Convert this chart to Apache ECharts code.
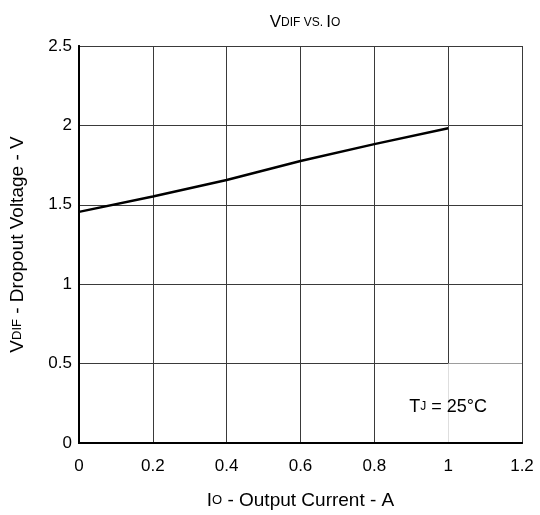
<!DOCTYPE html>
<html>
<head>
<meta charset="utf-8">
<script src="https://cdn.jsdelivr.net/npm/echarts@6/dist/echarts.min.js"></script>
<style>
  html, body { margin: 0; padding: 0; background: #fff; }
  #chart { width: 540px; height: 515px; }
</style>
</head>
<body>
<div id="chart"></div>
<script>
// Dropout voltage versus output current at TJ = 25 °C
const outputCurrent = [0, 0.2, 0.4, 0.6, 0.8, 1.0];          // A
const dropoutVoltage = [1.455, 1.552, 1.656, 1.776, 1.882, 1.982]; // V
const xTicks = { min: 0, max: 1.2, step: 0.2 };
const yTicks = { min: 0, max: 2.5, step: 0.5 };
// Cell reserved for the junction-temperature note
const noteCell = { x0: 1.0, x1: 1.2, y0: 0, y1: 0.5 };
const noteAnchor = [1.0, 0.228];

const FONT = '"Liberation Sans", Arial, Helvetica, sans-serif';
const INK = '#000';
const GRID = '#3a3a3a';

const chart = echarts.init(document.getElementById('chart'), null, { renderer: 'canvas' });

const txt = (size) => ({ fontFamily: FONT, fontSize: size, fontWeight: 'normal', color: INK });

chart.setOption({
  animation: false,
  backgroundColor: '#fff',
  title: {
    text: '{a|V}{b|DIF VS. }{a|I}{b|O}',
    left: 300, textAlign: 'center',
    top: 9,
    textStyle: { fontWeight: 'normal', rich: { a: txt(17), b: txt(12) } }
  },
  grid: { left: 79, right: 18, top: 46, bottom: 72, containLabel: false },
  xAxis: [
    {
      // bottom axis: frame edge, tick labels and title (kept above the note cell)
      type: 'value', position: 'bottom', z: 10,
      min: xTicks.min, max: xTicks.max, interval: xTicks.step,
      axisLine: { show: true, lineStyle: { color: INK, width: 2 } },
      axisTick: { show: false },
      splitLine: { show: false },
      axisLabel: { color: INK, fontFamily: FONT, fontSize: 17, margin: 15,
        formatter: (v) => String(+v.toFixed(1)) },
      name: '{a|I}{b|O}{a| - Output Current - A}',
      nameLocation: 'middle', nameGap: 48,
      nameTextStyle: { rich: { a: txt(19), b: txt(13) } }
    },
    {
      // top axis: frame edge and vertical grid lines
      type: 'value', position: 'top', z: 0,
      min: xTicks.min, max: xTicks.max, interval: xTicks.step,
      axisLine: { show: true, lineStyle: { color: INK, width: 2 } },
      axisTick: { show: false },
      axisLabel: { show: false },
      splitLine: { show: true, lineStyle: { color: GRID, width: 1 } }
    }
  ],
  yAxis: [
    {
      // left axis: frame edge, tick labels, title and horizontal grid lines
      type: 'value', position: 'left', z: 0,
      min: yTicks.min, max: yTicks.max, interval: yTicks.step,
      axisLine: { show: true, lineStyle: { color: INK, width: 2 } },
      axisTick: { show: false },
      splitLine: { show: true, lineStyle: { color: GRID, width: 1 } },
      axisLabel: { color: INK, fontFamily: FONT, fontSize: 17, margin: 7,
        formatter: (v) => String(+v.toFixed(1)) },
      name: '{a|V}{b|DIF}{a| - Dropout Voltage - V}',
      nameLocation: 'middle', nameGap: 52, nameRotate: 90,
      nameTextStyle: { rich: { a: txt(19), b: txt(13) } }
    },
    {
      // right axis: frame edge only (kept above the note cell)
      type: 'value', position: 'right', z: 10,
      min: yTicks.min, max: yTicks.max, interval: yTicks.step,
      axisLine: { show: true, lineStyle: { color: INK, width: 2 } },
      axisTick: { show: false },
      axisLabel: { show: false },
      splitLine: { show: false }
    }
  ],
  series: [
    {
      type: 'line',
      xAxisIndex: 0, yAxisIndex: 0,
      data: outputCurrent.map((x, i) => [x, dropoutVoltage[i]]),
      showSymbol: false, smooth: false,
      lineStyle: { color: INK, width: 2.4 },
      z: 3,
      markArea: {
        silent: true,
        itemStyle: { color: '#fff', borderWidth: 0 },
        data: [[{ coord: [noteCell.x0, noteCell.y0] }, { coord: [noteCell.x1, noteCell.y1] }]]
      },
      markPoint: {
        silent: true,
        symbol: 'circle', symbolSize: 0,
        label: {
          show: true, position: 'inside',
          formatter: '{a|T}{b|J}{a| = 25°C}',
          rich: { a: txt(18), b: txt(12) }
        },
        data: [{ coord: noteAnchor }]
      }
    }
  ]
});
</script>
</body>
</html>
